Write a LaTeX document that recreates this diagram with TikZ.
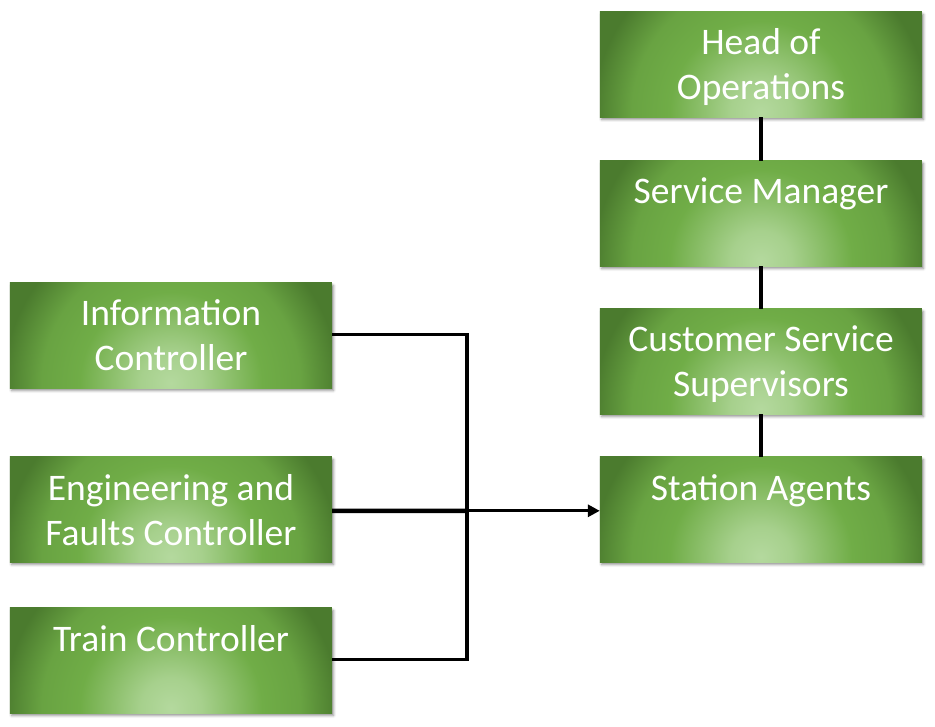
\documentclass[tikz,border=0pt]{standalone}
\usepackage{fontspec}
\setmainfont{Carlito}
\usetikzlibrary{arrows.meta,shadows.blur}
\definecolor{lg}{HTML}{B4D99E}
\definecolor{mg}{HTML}{70AD47}
\definecolor{dg}{HTML}{4B7B2E}
\pgfdeclareradialshading{glow}{\pgfpointorigin}{color(0bp)=(lg); color(4bp)=(lg!80!mg); color(12bp)=(mg); color(17bp)=(mg!80!dg); color(22bp)=(dg); color(25bp)=(dg); color(50bp)=(dg)}
\tikzset{
  boxsty/.style={rectangle, minimum width=322pt, minimum height=105pt, inner sep=0pt, draw=none, fill=dg,
    blur shadow={shadow xshift=1.5pt, shadow yshift=-2.5pt, shadow blur radius=2.5pt, shadow opacity=45}},
  txt/.style={anchor=base, inner sep=0pt, text=white, font=\fontsize{37.5}{45}\selectfont},
  conn/.style={line width=3.2pt, black},
}
\newcommand\gbox[4]{%
  \node[boxsty] (#1) at (#2,#3+52.5) {};
  \begin{scope}
    \clip (#1.south west) rectangle (#1.north east);
    \shade[shading=glow] (#2,#3+100) ellipse [x radius=190, y radius=190];
  \end{scope}
  \node[txt] (#1t) at (#2,#3+43) {\begin{tabular}[t]{@{}c@{}}#4\end{tabular}};
}
\begin{document}
\begin{tikzpicture}[x=1pt,y=-1pt]
\useasboundingbox (0,0) rectangle (935,727);
\gbox{head}{761}{12}{Head of\\Operations}
\gbox{sm}{761}{161}{Service Manager}
\gbox{css}{761}{309}{Customer Service\\Supervisors}
\gbox{sa}{761}{457}{Station Agents}
\gbox{ic}{171}{283}{Information\\Controller}
\gbox{efc}{171}{457}{Engineering and\\Faults Controller}
\gbox{tc}{171}{608}{Train Controller}
\coordinate (jn) at (467,511);
\draw[conn] (head.south) -- (sm.north);
\draw[conn] (sm.south) -- (css.north);
\draw[conn] (css.south) -- (sa.north);
\draw[conn] ([yshift=-52pt]ic.north east) -| (jn);
\draw[conn] ([yshift=-52pt]tc.north east) -| (jn);
\draw[conn, line width=4.5pt] ([yshift=-54pt]efc.north east) -- (jn);
\draw[conn, -{Triangle[length=12pt,width=12pt]}] ([yshift=-54pt]efc.north east) -- ([yshift=-54pt]sa.north west);
\end{tikzpicture}
\end{document}
